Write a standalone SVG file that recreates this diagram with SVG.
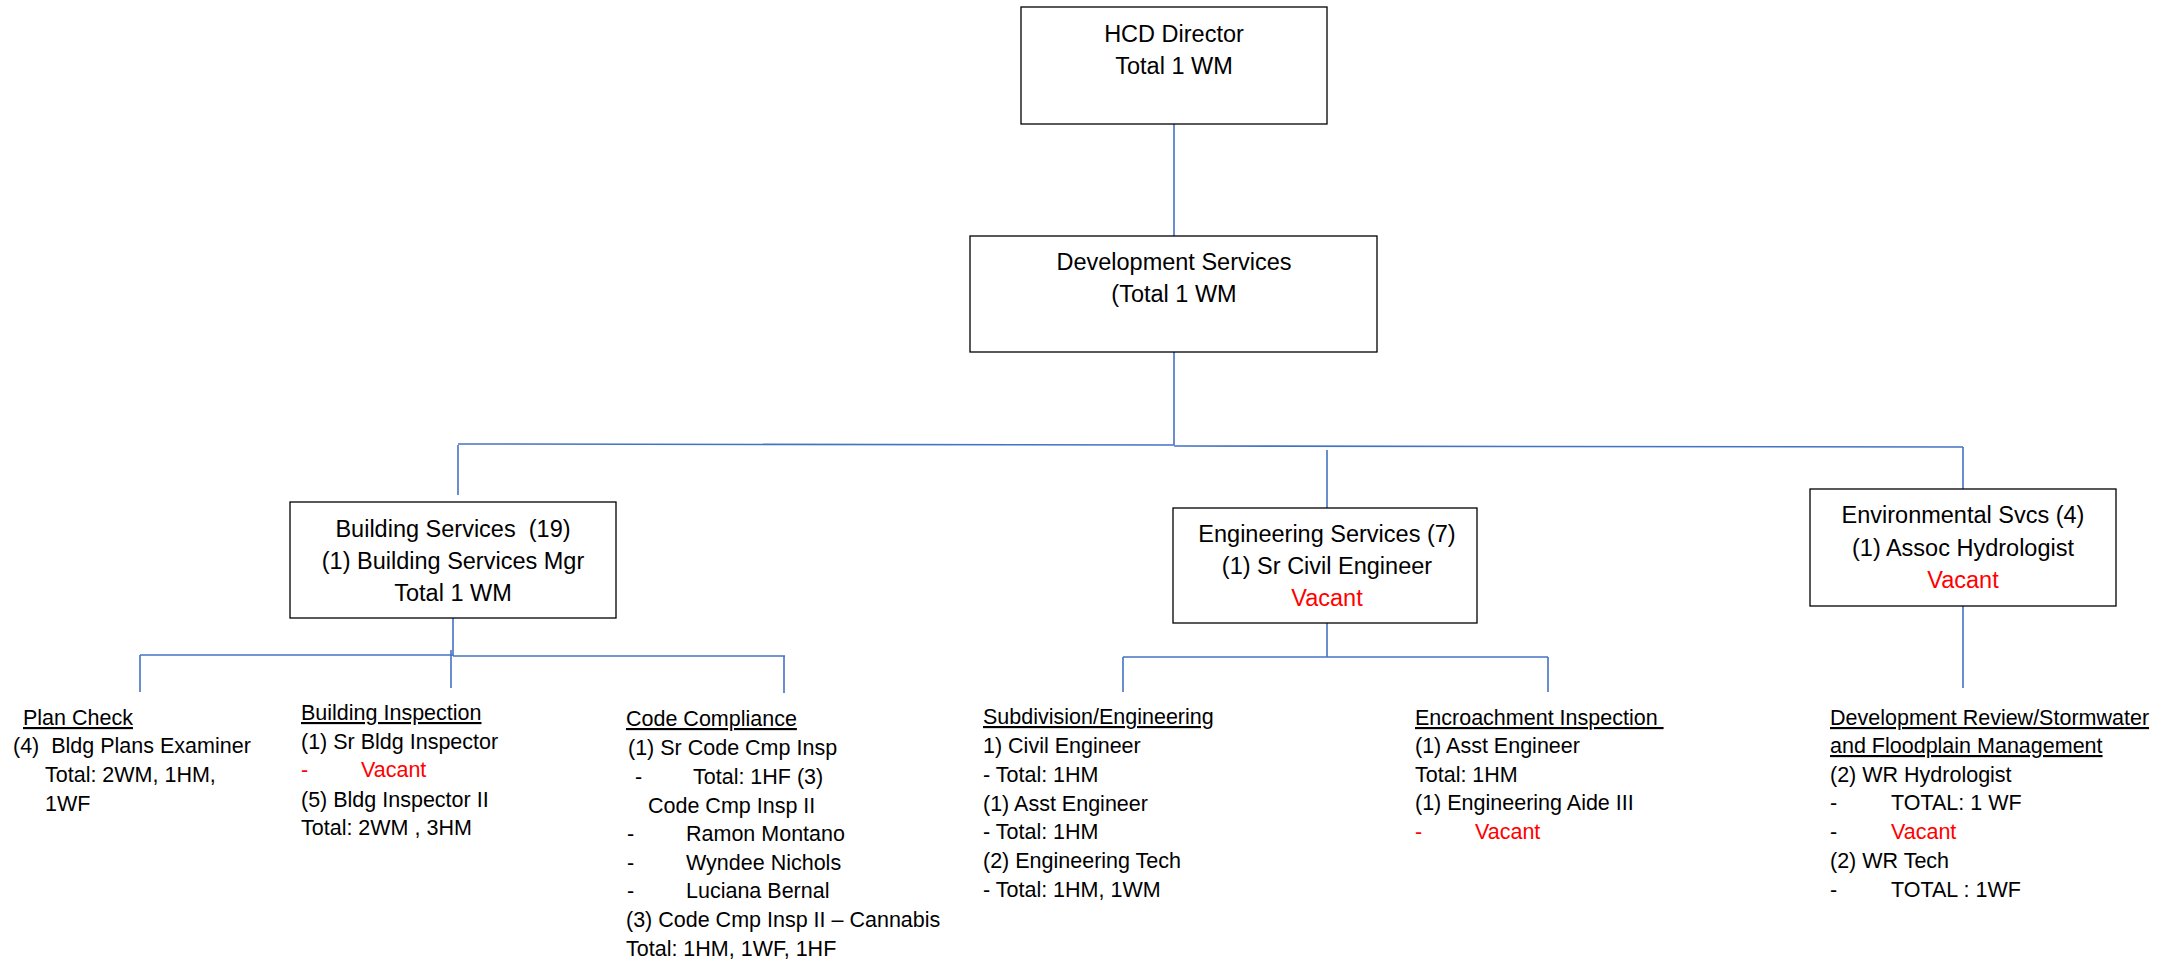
<svg xmlns="http://www.w3.org/2000/svg" width="2179" height="963" viewBox="0 0 2179 963">
<style>
  .box { fill: #ffffff; stroke: #000000; stroke-width: 1.3; }
  .bt { font-family: "Liberation Sans", Arial, sans-serif; font-size: 23.5px; fill: #000000; text-anchor: middle; }
  .t { font-family: "Liberation Sans", Arial, sans-serif; font-size: 21.5px; fill: #000000; }
  .u { text-decoration: underline; }
  .red { fill: #ff0000; }
  .conn line { stroke: #4472C4; stroke-width: 1.6; fill: none; }
</style>
<rect x="0" y="0" width="2179" height="963" fill="#ffffff"/>
<g id="connectors" class="conn">
  <line x1="1174" y1="124" x2="1174" y2="236"/>
  <line x1="1174" y1="352" x2="1174" y2="445"/>
  <line x1="458" y1="444" x2="1174" y2="445"/>
  <line x1="1174" y1="446" x2="1963" y2="447"/>
  <line x1="458" y1="445" x2="458" y2="495"/>
  <line x1="1327" y1="450" x2="1327" y2="508"/>
  <line x1="1963" y1="447" x2="1963" y2="489"/>
  <line x1="453" y1="618" x2="453" y2="656"/>
  <line x1="140" y1="655" x2="453" y2="655"/>
  <line x1="453" y1="656" x2="785" y2="656"/>
  <line x1="140" y1="655" x2="140" y2="692"/>
  <line x1="451" y1="650" x2="451" y2="688"/>
  <line x1="784" y1="656" x2="784" y2="693"/>
  <line x1="1327" y1="623" x2="1327" y2="657"/>
  <line x1="1123" y1="657" x2="1548" y2="657"/>
  <line x1="1123" y1="657" x2="1123" y2="692"/>
  <line x1="1548" y1="657" x2="1548" y2="692"/>
  <line x1="1963" y1="606" x2="1963" y2="688"/>
</g>
<g id="hcd-director">
  <rect class="box" x="1021" y="7" width="306" height="117"/>
  <text class="bt" x="1174" y="42">HCD Director</text>
  <text class="bt" x="1174" y="74">Total 1 WM</text>
</g>
<g id="development-services">
  <rect class="box" x="970" y="236" width="407" height="116"/>
  <text class="bt" x="1174" y="270">Development Services</text>
  <text class="bt" x="1174" y="302">(Total 1 WM</text>
</g>
<g id="building-services">
  <rect class="box" x="290" y="502" width="326" height="116"/>
  <text class="bt" x="453" y="537" xml:space="preserve">Building Services  (19)</text>
  <text class="bt" x="453" y="569">(1) Building Services Mgr</text>
  <text class="bt" x="453" y="601">Total 1 WM</text>
</g>
<g id="engineering-services">
  <rect class="box" x="1173" y="508" width="304" height="115"/>
  <text class="bt" x="1327" y="542">Engineering Services (7)</text>
  <text class="bt" x="1327" y="574">(1) Sr Civil Engineer</text>
  <text class="bt red" x="1327" y="606">Vacant</text>
</g>
<g id="environmental-svcs">
  <rect class="box" x="1810" y="489" width="306" height="117"/>
  <text class="bt" x="1963" y="523">Environmental Svcs (4)</text>
  <text class="bt" x="1963" y="556">(1) Assoc Hydrologist</text>
  <text class="bt red" x="1963" y="588">Vacant</text>
</g>
<g id="plan-check">
  <text class="t u" x="23" y="725">Plan Check</text>
  <text class="t" x="13" y="753" xml:space="preserve">(4)  Bldg Plans Examiner</text>
  <text class="t" x="45" y="782">Total: 2WM, 1HM,</text>
  <text class="t" x="45" y="811">1WF</text>
</g>
<g id="building-inspection">
  <text class="t u" x="301" y="720">Building Inspection</text>
  <text class="t" x="301" y="749">(1) Sr Bldg Inspector</text>
  <text class="t red" x="301" y="777">-</text>
  <text class="t red" x="361" y="777">Vacant</text>
  <text class="t" x="301" y="807">(5) Bldg Inspector II</text>
  <text class="t" x="301" y="835">Total: 2WM , 3HM</text>
</g>
<g id="code-compliance">
  <text class="t u" x="626" y="726">Code Compliance</text>
  <text class="t" x="628" y="755">(1) Sr Code Cmp Insp</text>
  <text class="t" x="635" y="784">-</text>
  <text class="t" x="693" y="784">Total: 1HF (3)</text>
  <text class="t" x="648" y="813">Code Cmp Insp II</text>
  <text class="t" x="627" y="841">-</text>
  <text class="t" x="686" y="841">Ramon Montano</text>
  <text class="t" x="627" y="870">-</text>
  <text class="t" x="686" y="870">Wyndee Nichols</text>
  <text class="t" x="627" y="898">-</text>
  <text class="t" x="686" y="898">Luciana Bernal</text>
  <text class="t" x="626" y="927">(3) Code Cmp Insp II – Cannabis</text>
  <text class="t" x="626" y="956">Total: 1HM, 1WF, 1HF</text>
</g>
<g id="subdivision-engineering">
  <text class="t u" x="983" y="724">Subdivision/Engineering</text>
  <text class="t" x="983" y="753">1) Civil Engineer</text>
  <text class="t" x="983" y="782">- Total: 1HM</text>
  <text class="t" x="983" y="811">(1) Asst Engineer</text>
  <text class="t" x="983" y="839">- Total: 1HM</text>
  <text class="t" x="983" y="868">(2) Engineering Tech</text>
  <text class="t" x="983" y="897">- Total: 1HM, 1WM</text>
</g>
<g id="encroachment-inspection">
  <text class="t u" x="1415" y="725" xml:space="preserve">Encroachment Inspection </text>
  <text class="t" x="1415" y="753">(1) Asst Engineer</text>
  <text class="t" x="1415" y="782">Total: 1HM</text>
  <text class="t" x="1415" y="810">(1) Engineering Aide III</text>
  <text class="t red" x="1415" y="839">-</text>
  <text class="t red" x="1475" y="839">Vacant</text>
</g>
<g id="development-review">
  <text class="t u" x="1830" y="725">Development Review/Stormwater</text>
  <text class="t u" x="1830" y="753">and Floodplain Management</text>
  <text class="t" x="1830" y="782">(2) WR Hydrologist</text>
  <text class="t" x="1830" y="810">-</text>
  <text class="t" x="1891" y="810">TOTAL: 1 WF</text>
  <text class="t" x="1830" y="839">-</text>
  <text class="t red" x="1891" y="839">Vacant</text>
  <text class="t" x="1830" y="868">(2) WR Tech</text>
  <text class="t" x="1830" y="897">-</text>
  <text class="t" x="1891" y="897">TOTAL : 1WF</text>
</g>
</svg>
